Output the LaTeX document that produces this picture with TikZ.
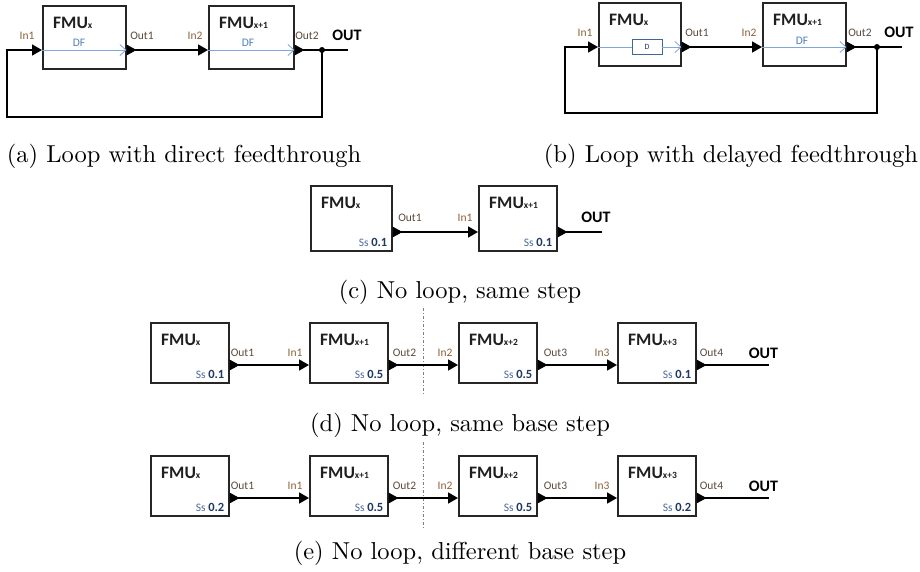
\documentclass[tikz,border=0pt]{standalone}
\usepackage{fontspec}
\newfontfamily\calib{Carlito}
\usetikzlibrary{arrows.meta,calc}
\definecolor{inc}{HTML}{8C6239}
\definecolor{outc}{HTML}{5A4A3A}
\definecolor{dfblue}{HTML}{4F81BD}
\definecolor{dflight}{HTML}{7FA7D8}
\definecolor{ssblue}{HTML}{4A6A9A}
\definecolor{ssdark}{HTML}{1F3864}
\newcommand\fmusub[1]{\raisebox{-0.5pt}{\fontsize{9.5}{9.5}\selectfont #1}}
\tikzset{
 fmubox/.style={draw=black!85, line width=1.5pt, fill=white, anchor=north west, inner sep=0pt},
 fmulbl/.style={anchor=base west, inner sep=0pt, font=\calib\bfseries\fontsize{17.5}{17.5}\selectfont, text=black!88},
 inlbl/.style={inner sep=0pt, font=\calib\fontsize{11.5}{11.5}\selectfont, text=inc},
 outlbl/.style={inner sep=0pt, font=\calib\fontsize{11.5}{11.5}\selectfont, text=outc},
 outtxt/.style={inner sep=0pt, font=\calib\bfseries\fontsize{16}{16}\selectfont},
 sig/.style={line width=1.7pt, draw=black},
 intip/.style={-{Triangle[length=10pt,width=11pt]}},
 dfline/.style={draw=dflight, line width=0.8pt, -{Straight Barb[length=6pt,width=11pt]}},
 dfplain/.style={draw=dflight, line width=0.8pt},
 dftxt/.style={inner sep=0pt, font=\calib\fontsize{11.5}{11.5}\selectfont, text=dfblue},
 dbox/.style={draw=dfblue!80!black, line width=0.6pt, fill=white, minimum width=30pt, minimum height=15pt, inner sep=0pt, font=\calib\fontsize{8}{8}\selectfont, text=ssdark},
 captxt/.style={inner sep=0pt, scale=2.45, font=\fontsize{10}{12}\selectfont},
 sstxt/.style={anchor=base east, inner sep=0pt, font=\calib\fontsize{11.5}{11.5}\selectfont, text=ssblue},
 sepline/.style={draw=gray, line width=0.6pt, dash pattern=on 3pt off 2pt on 1pt off 2pt},
 junct/.style={circle, fill=black, inner sep=0pt, minimum size=6pt},
}
\newcommand\fmublock[7]{%
 \node[fmubox, minimum width=#4pt, minimum height=#5pt] (#1) at (#2,#3) {};
 \node[fmulbl] (#1-lbl) at ($(#1.north west)+(11,23)$) {FMU\fmusub{#6}};
 \coordinate (#1-i) at ($(#1.north west)+(0,#7)$);
 \coordinate (#1-o) at ($(#1.north east)+(0,#7)$);
}
\newcommand\outport[1]{\fill[black] (#1) ++(0,-5.5) -- ++(10,5.5) -- ++(-10,5.5) -- cycle;}
\newcommand\ssval[2]{\node[sstxt] (#1-ss) at ($(#1.south east)+(-5,-5)$) {Ss {\bfseries\color{ssdark}\fontsize{12.5}{12.5}\selectfont #2}};}
\newcommand\fourrow[6]{%
 \fmublock{#1a}{150}{#2}{78}{60}{x}{43}
 \fmublock{#1b}{309}{#2}{78}{60}{x+1}{43}
 \fmublock{#1c}{458}{#2}{78}{60}{x+2}{43}
 \fmublock{#1d}{617}{#2}{78}{60}{x+3}{43}
 \ssval{#1a}{#3}\ssval{#1b}{#4}\ssval{#1c}{#5}\ssval{#1d}{#6}
 \draw[sig,intip] (#1a-o) -- (#1b-i);
 \draw[sig,intip] (#1b-o) -- (#1c-i);
 \draw[sig,intip] (#1c-o) -- (#1d-i);
 \coordinate (#1-end) at ($(#1d-o)+(72,0)$);
 \draw[sig] (#1d-o) -- (#1-end);
 \outport{#1a-o}\outport{#1b-o}\outport{#1c-o}\outport{#1d-o}
 \node[outlbl] (#1-l1) at ($(#1a-o)+(13,-12)$) {Out1};
 \node[inlbl]  (#1-l2) at ($(#1b-i)+(-14,-12)$) {In1};
 \node[outlbl] (#1-l3) at ($(#1b-o)+(16,-12)$) {Out2};
 \node[inlbl]  (#1-l4) at ($(#1c-i)+(-13,-12)$) {In2};
 \node[outlbl] (#1-l5) at ($(#1c-o)+(18,-12)$) {Out3};
 \node[inlbl]  (#1-l6) at ($(#1d-i)+(-15,-12)$) {In3};
 \node[outlbl] (#1-l7) at ($(#1d-o)+(15,-12)$) {Out4};
 \node[outtxt] (#1-out) at ($(#1d-o)+(67,-12)$) {OUT};
}
\begin{document}
\begin{tikzpicture}[x=1pt,y=-1pt]
\fill[white] (0,0) rectangle (920,571);
\useasboundingbox (0,0) rectangle (920,571);

% ---------- (a) ----------
\fmublock{a1}{42}{5}{83}{63}{x}{45}
\fmublock{a2}{208}{5}{85}{63}{x+1}{45}
\draw[dfline] (a1-i) -- (a1-o);
\draw[dfline] (a2-i) -- (a2-o);
\node[dftxt] (a1df) at (79,43) {DF};
\node[dftxt] (a2df) at (248,43) {DF};
\draw[sig,intip] (a1-o) -- (a2-i);
\node[junct] (adot) at (322,50) {};
\coordinate (aend) at (348,50);
\coordinate (aloop) at (7,117);
\draw[sig] (a2-o) -- (aend);
\draw[sig,intip] (adot.center) -- (adot.center |- aloop) -- (aloop) |- (a1-i);
\outport{a1-o}\outport{a2-o}
\node[inlbl] (a-in1) at (27,36) {In1};
\node[outlbl] (a-out1) at (142,36) {Out1};
\node[inlbl] (a-in2) at (195,36) {In2};
\node[outlbl] (a-out2) at (307,36) {Out2};
\node[outtxt] (a-out) at (347,35) {OUT};
\node[captxt] (capa) at (184,156) {(a) Loop with direct feedthrough};

% ---------- (b) ----------
\fmublock{b1}{598}{2}{82}{63}{x}{45}
\fmublock{b2}{762}{2}{83}{63}{x+1}{45}
\node[dbox] (bd) at ($(b1-i)+(49,0)$) {D};
\draw[dfplain] (b1-i) -- (bd.west);
\draw[dfline] (bd.east) -- (b1-o);
\draw[dfline] (b2-i) -- (b2-o);
\node[dftxt] (b2df) at (802,41) {DF};
\draw[sig,intip] (b1-o) -- (b2-i);
\node[junct] (bdot) at (877,47) {};
\coordinate (bend) at (902,47);
\coordinate (bloop) at (565,113);
\draw[sig] (b2-o) -- (bend);
\draw[sig,intip] (bdot.center) -- (bdot.center |- bloop) -- (bloop) |- (b1-i);
\outport{b1-o}\outport{b2-o}
\node[inlbl] (b-in1) at (585,33) {In1};
\node[outlbl] (b-out1) at (697,33) {Out1};
\node[inlbl] (b-in2) at (749,33) {In2};
\node[outlbl] (b-out2) at (860,33) {Out2};
\node[outtxt] (b-out) at (899,32) {OUT};
\node[captxt] (capb) at (731,156) {(b) Loop with delayed feedthrough};

% ---------- (c) ----------
\fmublock{c1}{310}{185}{81}{65}{x}{47}
\fmublock{c2}{478}{185}{78}{65}{x+1}{47}
\ssval{c1}{0.1}\ssval{c2}{0.1}
\draw[sig,intip] (c1-o) -- (c2-i);
\coordinate (cend) at (602,232);
\draw[sig] (c2-o) -- (cend);
\outport{c1-o}\outport{c2-o}
\node[outlbl] (c-out1) at (410,218) {Out1};
\node[inlbl] (c-in1) at (465,218) {In1};
\node[outtxt] (c-out) at (596,217) {OUT};
\node[captxt] (capc) at (460,292) {(c) No loop, same step};

% ---------- (d) ----------
\coordinate (dsep1) at (423,308);
\coordinate (dsep2) at (423,394);
\draw[sepline] (dsep1) -- (dsep2);
\fourrow{d}{322}{0.1}{0.5}{0.5}{0.1}
\node[captxt] (capd) at (460,425) {(d) No loop, same base step};

% ---------- (e) ----------
\coordinate (esep1) at (423,442);
\coordinate (esep2) at (423,528);
\draw[sepline] (esep1) -- (esep2);
\fourrow{e}{455}{0.2}{0.5}{0.5}{0.2}
\node[captxt] (cape) at (460,553) {(e) No loop, different base step};
\end{tikzpicture}
\end{document}
